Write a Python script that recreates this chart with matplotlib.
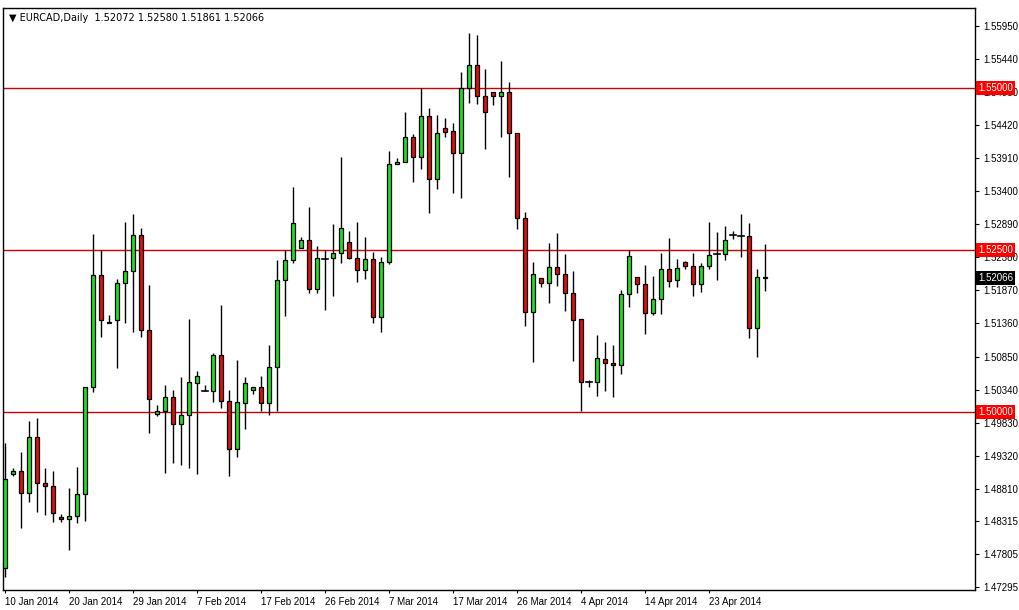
import matplotlib
matplotlib.use("Agg")
import matplotlib.pyplot as plt
from matplotlib.patches import Rectangle

opens = [1.4759,1.4904,1.4908,1.4874,1.4961,1.4890,1.4885,1.4837,1.4834,1.4839,
         1.4873,1.5038,1.5211,1.5137,1.5141,1.5198,1.5217,1.5273,1.5126,1.4996,
         1.5001,1.5023,1.4981,1.4995,1.5044,1.5032,1.5032,1.5087,1.5016,1.4942,
         1.5013,1.5033,1.5038,1.5013,1.5069,1.5203,1.5234,1.5252,1.5265,1.5189,
         1.5235,1.5237,1.5245,1.5262,1.5237,1.5219,1.5235,1.5146,1.5231,1.5382,
         1.5385,1.5424,1.5393,1.5456,1.5359,1.5438,1.5433,1.5399,1.5499,1.5535,
         1.5487,1.5493,1.5487,1.5493,1.5430,1.5299,1.5154,1.5206,1.5198,1.5223,
         1.5212,1.5183,1.5143,1.5046,1.5046,1.5081,1.5075,1.5072,1.5181,1.5208,
         1.5197,1.5152,1.5174,1.5220,1.5203,1.5231,1.5225,1.5197,1.5225,1.5243,
         1.5243,1.5273,1.5271,1.5271,1.5129,1.52072]
highs = [1.4952,1.4913,1.4938,1.4986,1.4990,1.4913,1.4908,1.4842,1.4882,1.4915,
         1.5038,1.5274,1.5249,1.5149,1.5205,1.5293,1.5305,1.5283,1.5195,1.5010,
         1.5041,1.5033,1.5053,1.5143,1.5063,1.5041,1.5090,1.5165,1.5033,1.5080,
         1.5053,1.5038,1.5055,1.5103,1.5234,1.5249,1.5347,1.5269,1.5316,1.5256,
         1.5249,1.5290,1.5393,1.5279,1.5293,1.5269,1.5246,1.5239,1.5402,1.5391,
         1.5462,1.5428,1.5499,1.5468,1.5458,1.5453,1.5445,1.5524,1.5584,1.5581,
         1.5529,1.5493,1.5541,1.5509,1.5430,1.5308,1.5231,1.5206,1.5260,1.5276,
         1.5243,1.5217,1.5143,1.5049,1.5118,1.5107,1.5103,1.5188,1.5249,1.5208,
         1.5226,1.5209,1.5245,1.5268,1.5235,1.5232,1.5245,1.5229,1.5293,1.5277,
         1.5286,1.5279,1.5305,1.5291,1.5220,1.52580]
lows = [1.4745,1.4901,1.4820,1.4861,1.4845,1.4841,1.4830,1.4830,1.4786,1.4828,
        1.4831,1.5030,1.5115,1.5137,1.5067,1.5137,1.5123,1.5115,1.4967,1.4993,
        1.4905,1.4921,1.4918,1.4913,1.4904,1.5032,1.5015,1.5006,1.4901,1.4930,
        1.4973,1.5027,1.5001,1.4995,1.5001,1.5147,1.5229,1.5252,1.5183,1.5183,
        1.5157,1.5178,1.5229,1.5235,1.5200,1.5205,1.5137,1.5123,1.5228,1.5382,
        1.5385,1.5354,1.5374,1.5306,1.5343,1.5424,1.5337,1.5330,1.5476,1.5475,
        1.5405,1.5473,1.5424,1.5362,1.5282,1.5132,1.5077,1.5192,1.5168,1.5194,
        1.5155,1.5078,1.5001,1.5038,1.5024,1.5032,1.5023,1.5058,1.5161,1.5183,
        1.5120,1.5149,1.5151,1.5192,1.5192,1.5220,1.5178,1.5185,1.5220,1.5203,
        1.5234,1.5266,1.5239,1.5114,1.5084,1.51861]
closes = [1.4896,1.4908,1.4874,1.4961,1.4890,1.4885,1.4844,1.4834,1.4839,1.4873,
          1.5038,1.5211,1.5141,1.5138,1.5198,1.5217,1.5273,1.5126,1.5019,1.5001,
          1.5023,1.4981,1.4995,1.5046,1.5055,1.5032,1.5087,1.5016,1.4942,1.5015,
          1.5044,1.5038,1.5013,1.5069,1.5203,1.5234,1.5291,1.5265,1.5189,1.5237,
          1.5235,1.5245,1.5283,1.5237,1.5219,1.5235,1.5146,1.5231,1.5382,1.5385,
          1.5424,1.5393,1.5456,1.5359,1.5430,1.5431,1.5399,1.5499,1.5535,1.5487,
          1.5462,1.5487,1.5493,1.5430,1.5299,1.5154,1.5212,1.5198,1.5223,1.5212,
          1.5183,1.5141,1.5046,1.5046,1.5083,1.5075,1.5072,1.5181,1.5240,1.5197,
          1.5152,1.5174,1.5220,1.5201,1.5222,1.5225,1.5197,1.5225,1.5242,1.5243,
          1.5265,1.5273,1.5271,1.5129,1.5208,1.52066]

date_labels = ["10 Jan 2014","20 Jan 2014","29 Jan 2014","7 Feb 2014","17 Feb 2014",
               "26 Feb 2014","7 Mar 2014","17 Mar 2014","26 Mar 2014","4 Apr 2014",
               "14 Apr 2014","23 Apr 2014"]
price_ticks = [1.55950,1.55440,1.54930,1.54420,1.53910,1.53400,1.52890,1.52380,1.51870,
               1.51360,1.50850,1.50340,1.49830,1.49320,1.48810,1.48315,1.47805,1.47295]
levels = [1.55000, 1.52500, 1.50000]
title = "EURCAD,Daily  1.52072 1.52580 1.51861 1.52066"

plt.rcParams['font.family'] = ['Liberation Sans', 'DejaVu Sans']
FS = 7
W, H = 1020, 610
fig = plt.figure(figsize=(W/100, H/100), dpi=100)
L, R, T, B = 3, 975, 8, 590
ax = fig.add_axes([L/W, 1-B/H, (R-L)/W, (B-T)/H])
ax.set_xlim(-0.25, 121.25)
ax.set_ylim(1.47247, 1.56228)

GREEN = "#22E022"; RED = "#DD1010"
bw = 0.6
for i, (o, h, l, c) in enumerate(zip(opens, highs, lows, closes)):
    ax.plot([i, i], [l, h], color="black", lw=1, zorder=2, solid_capstyle="butt")
    if abs(c - o) < 0.00006:
        ax.plot([i-0.35, i+0.35], [c, c], color="black", lw=1.2, zorder=3)
    else:
        col = GREEN if c > o else RED
        ax.add_patch(Rectangle((i-bw/2, min(o, c)), bw, abs(c-o), facecolor=col,
                               edgecolor="black", lw=0.9, zorder=3))

for lv in levels:
    ax.axhline(lv, color="#CC0000", lw=1, zorder=1)

ax.yaxis.tick_right()
ax.set_yticks(price_ticks)
ax.set_yticklabels([f"{p:.5f}" for p in price_ticks], fontsize=FS)
ax.tick_params(axis="y", length=3, pad=3, direction="out")
ax.set_xticks(range(0, 96, 8))
ax.set_xticklabels(date_labels, fontsize=FS, ha="left")
ax.tick_params(axis="x", length=2, pad=3, direction="out")
for s in ax.spines.values():
    s.set_color("black"); s.set_linewidth(1)

bbox_kw = dict(boxstyle="square,pad=0.2", lw=0)
for lv in levels:
    ax.text(1.0035, lv, f"{lv:.5f}", transform=ax.get_yaxis_transform(), fontsize=FS,
            color="white", va="center", ha="left", zorder=10, clip_on=False,
            bbox=dict(facecolor="#FF0000", **bbox_kw))
ax.text(1.0035, closes[-1], f"{closes[-1]:.5f}", transform=ax.get_yaxis_transform(),
        fontsize=FS, color="white", va="center", ha="left", zorder=10, clip_on=False,
        bbox=dict(facecolor="black", **bbox_kw))

ax.text(0.006, 0.992, "\u25BC " + title, transform=ax.transAxes, fontsize=FS,
        va="top", ha="left", family=['DejaVu Sans'])

fig.savefig("out.png", dpi=100, facecolor="white")
